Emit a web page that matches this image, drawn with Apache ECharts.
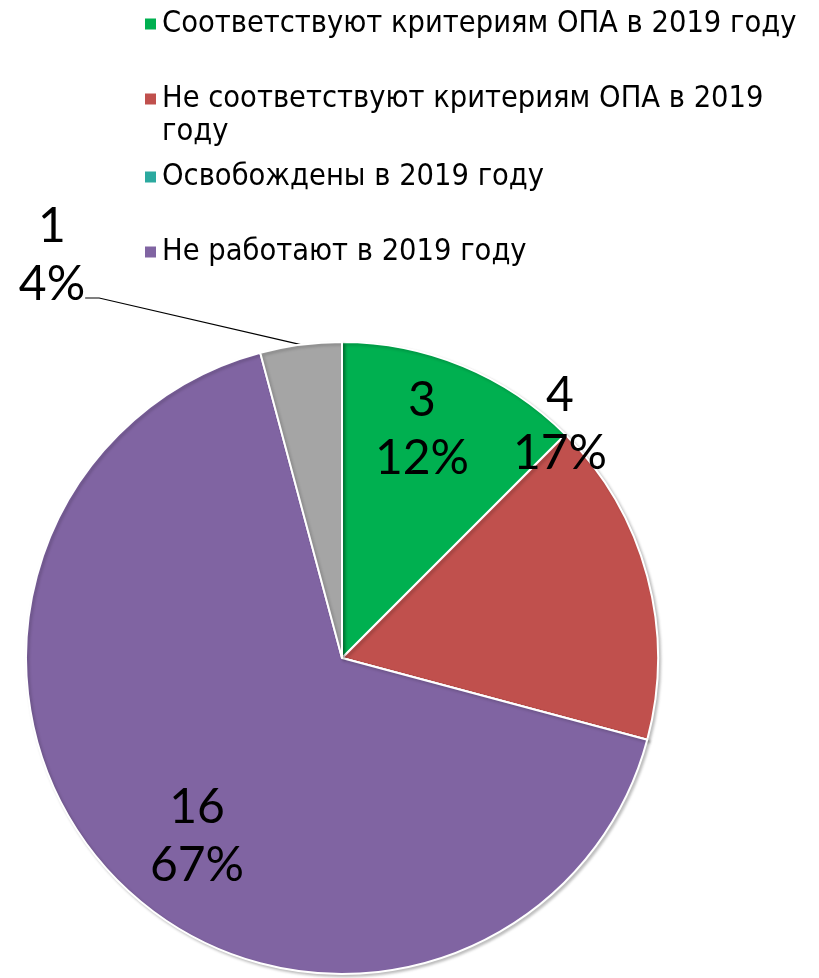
<!DOCTYPE html>
<html>
<head>
<meta charset="utf-8">
<script src="https://cdn.jsdelivr.net/npm/echarts@6/dist/echarts.min.js"></script>
<style>
  html, body { margin: 0; padding: 0; background: #fff; }
  #main { width: 819px; height: 978px; }
</style>
</head>
<body>
<div id="main"></div>
<script>
var app = echarts.init(document.getElementById('main'));

// categories and values
var names = ['Соответствуют критериям ОПА в 2019 году', 'Не соответствуют критериям ОПА в 2019 году', 'Освобождены в 2019 году', 'Не работают в 2019 году', 'Прочие'];
var values = [3, 4, 0, 16, 1];
var percents = [12, 17, 0, 67, 4];   // as printed on the chart
var colors = ['#00b050', '#c0504d', '#2ba99f', '#8064a2', '#a5a5a5'];

// label block centres (Excel "best fit" placement)
var labelPos = [[422, 430], [560, 425], null, [197, 837], [52, 256]];
// legend rows: marker centre y
var legendY = [19, 94, 172, 247];

var legendFont = 'DejaVu Sans Condensed, DejaVu Sans, sans-serif';

var legends = [0, 1, 2, 3].map(function (i) {
  var two = (i == 1);
  return {
    left: 138,
    top: legendY[i] - (two ? 49.5 : 16.5),
    orient: 'vertical',
    data: [names[i]],
    icon: 'rect',
    itemWidth: 13,
    itemHeight: 13,
    itemGap: 0,
    selectedMode: false,
    formatter: function (n) {
      // Excel wraps the long entry before the last word; the blank first
      // line keeps the marker level with the first text line
      return two ? '{p| }\n' + n.replace(' году', '\nгоду') : n;
    },
    textStyle: {
      fontFamily: legendFont,
      fontSize: 30.5,
      color: '#000',
      lineHeight: 33,
      rich: { p: { fontSize: 10, lineHeight: 33, height: 33 } }
    }
  };
});

option = {
  backgroundColor: '#fff',
  animation: false,
  legend: legends,
  series: [{
    type: 'pie',
    center: [342, 658],
    radius: [0, 316],
    startAngle: 90,
    clockwise: true,
    avoidLabelOverlap: false,
    itemStyle: {
      borderColor: '#fff',
      borderWidth: 2,
      shadowColor: 'rgba(0,0,0,0.22)',
      shadowBlur: 3,
      shadowOffsetX: 2,
      shadowOffsetY: 2
    },
    label: {
      show: true,
      position: 'inside',
      formatter: function (p) { return p.value + '\n' + percents[p.dataIndex] + '%'; },
      fontFamily: 'Lato, sans-serif',
      fontSize: 48,
      lineHeight: 58,
      color: '#000'
    },
    labelLine: { show: false },
    labelLayout: function (p) {
      var pos = labelPos[p.dataIndex];
      if (!pos) return {};
      if (p.dataIndex == 4) {
        // leader line attaches at the foot of the label, as in the original
        return { x: pos[0], y: pos[1] + 42, align: 'center', verticalAlign: 'middle' };
      }
      return { x: pos[0], y: pos[1], align: 'center', verticalAlign: 'middle' };
    },
    data: names.map(function (n, i) {
      var d = { name: n, value: values[i], itemStyle: { color: colors[i] } };
      if (values[i] == 0) d.label = { show: false };
      if (i == 4) {
        d.label = {
          position: 'outside',
          formatter: function (p) {
            return '{a|' + p.value + '}\n{a|' + percents[p.dataIndex] + '%}\n{b| }';
          },
          rich: {
            a: { fontFamily: 'Lato, sans-serif', fontSize: 48, lineHeight: 58, color: '#000' },
            b: { fontSize: 10, lineHeight: 84, height: 84 }
          }
        };
        d.labelLine = { show: true, length: 10, length2: 14, lineStyle: { color: '#000', width: 1.2 } };
      }
      return d;
    })
  }]
};

app.setOption(option);
</script>
</body>
</html>
